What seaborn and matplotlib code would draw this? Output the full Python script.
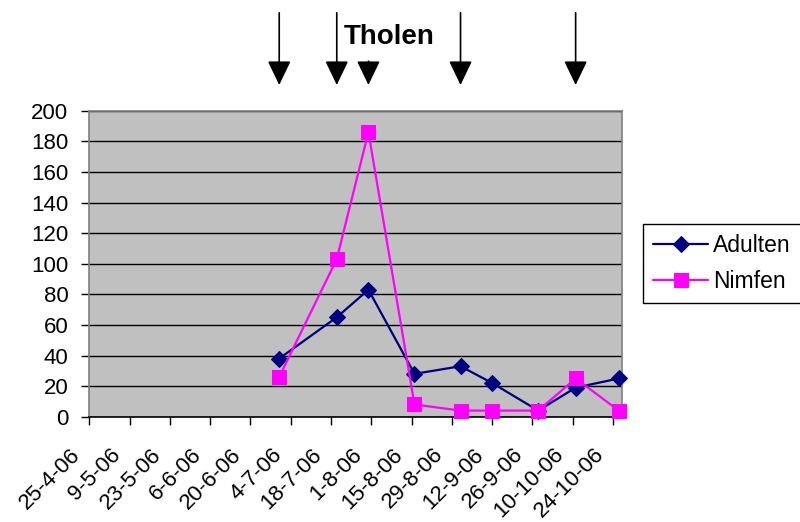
import matplotlib
matplotlib.use("Agg")
import matplotlib.pyplot as plt
import matplotlib.dates as mdates
import matplotlib.transforms as mtransforms
import pandas as pd
import seaborn as sns

# data
sample_dates = ["30-6-06", "20-7-06", "31-7-06", "16-8-06", "1-9-06",
                "12-9-06", "28-9-06", "11-10-06", "26-10-06"]
adulten = [38, 65, 83, 28, 33, 22, 4, 19, 25]
nimfen = [26, 103, 186, 8, 4, 4, 4, 25, 4]
arrow_dates = ["30-6-06", "20-7-06", "31-7-06", "1-9-06", "11-10-06"]
tick_labels = ["25-4-06", "9-5-06", "23-5-06", "6-6-06", "20-6-06", "4-7-06",
               "18-7-06", "1-8-06", "15-8-06", "29-8-06", "12-9-06", "26-9-06",
               "10-10-06", "24-10-06"]
y_ticks = [0, 20, 40, 60, 80, 100, 120, 140, 160, 180, 200]

sns.set_style("ticks")
plt.rcParams["font.family"] = ["Liberation Sans", "DejaVu Sans"]
plt.rcParams["text.color"] = "black"
plt.rcParams["xtick.color"] = "black"
plt.rcParams["ytick.color"] = "black"

dates = pd.to_datetime(sample_dates, format="%d-%m-%y")
tick_dates = pd.to_datetime(tick_labels, format="%d-%m-%y")
df = pd.DataFrame({"datum": dates, "Adulten": adulten, "Nimfen": nimfen})

fig = plt.figure(figsize=(8, 5.22), dpi=100)
ax = fig.add_axes([0.1116, 0.2017, 0.6655, 0.5862])
ax.set_facecolor("#c0c0c0")

sns.lineplot(data=df, x="datum", y="Adulten", ax=ax, color="#000080",
             marker="D", markersize=8.5, markeredgecolor="#000080",
             linewidth=1.6, label="Adulten", clip_on=False, zorder=3)
sns.lineplot(data=df, x="datum", y="Nimfen", ax=ax, color="#ff00ff",
             marker="s", markersize=10, markeredgecolor="#ff00ff",
             linewidth=1.6, label="Nimfen", clip_on=False, zorder=4)

ax.set_ylim(0, 200)
ax.set_yticks(y_ticks)
ax.set_xlim(pd.Timestamp("2006-04-25"), pd.Timestamp("2006-10-27"))
ax.set_xticks(tick_dates)
ax.set_xticklabels(tick_labels, rotation=45, ha="right", va="center",
                   rotation_mode="anchor")
ax.set_xlabel("")
ax.set_ylabel("")
ax.yaxis.grid(True, color="black", linewidth=1)
ax.set_axisbelow(True)

ax.tick_params(axis="y", direction="out", length=6, width=1, pad=9,
               labelsize=16)
ax.tick_params(axis="x", direction="out", length=6, width=1, pad=19,
               labelsize=16)
shift = mtransforms.ScaledTranslation(-0.12, 0, fig.dpi_scale_trans)
for lab in ax.get_xticklabels():
    lab.set_transform(lab.get_transform() + shift)

for side in ["top", "right", "left"]:
    ax.spines[side].set_color("#808080")
    ax.spines[side].set_linewidth(1.2)
ax.spines["bottom"].set_color("black")
ax.spines["bottom"].set_linewidth(1.2)

# arrows above the plot
arrow_top = [1.32, 1.32, 1.162, 1.32, 1.32]
trans = ax.get_xaxis_transform()
for d, top in zip(pd.to_datetime(arrow_dates, format="%d-%m-%y"), arrow_top):
    x = mdates.date2num(d)
    ax.annotate("", xy=(x, 1.084), xytext=(x, top), xycoords=trans,
                textcoords=trans, annotation_clip=False,
                arrowprops=dict(arrowstyle="-|>,head_length=1.0,head_width=0.48",
                                color="black", lw=1.2, shrinkA=0, shrinkB=0,
                                mutation_scale=15))

fig.text(389 / 800, 1 - 37 / 522, "Tholen", ha="center", va="center",
         fontsize=20, fontweight="bold")

leg = ax.legend(loc="center left", bbox_to_anchor=(643 / 800, 1 - 263.5 / 522),
                bbox_transform=fig.transFigure, frameon=True, fancybox=False,
                edgecolor="black", framealpha=1, fontsize=16.5, handlelength=2.4,
                handletextpad=0.2, borderpad=0.45, labelspacing=0.55,
                borderaxespad=0)
leg.get_frame().set_linewidth(1)

fig.savefig("out.png", dpi=100)
